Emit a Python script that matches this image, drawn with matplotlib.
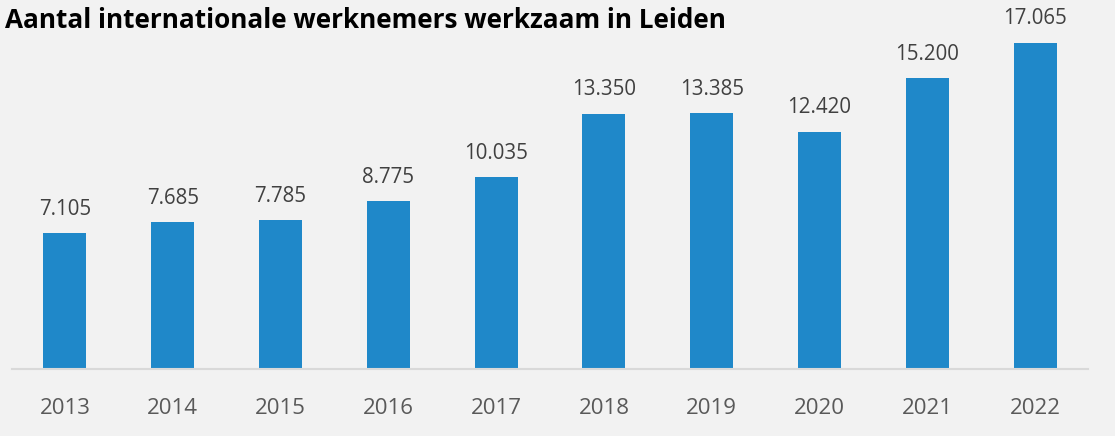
import matplotlib
matplotlib.use("Agg")
import matplotlib.pyplot as plt

years = ["2013", "2014", "2015", "2016", "2017", "2018", "2019", "2020", "2021", "2022"]
values = [7105, 7685, 7785, 8775, 10035, 13350, 13385, 12420, 15200, 17065]
labels = ["7.105", "7.685", "7.785", "8.775", "10.035", "13.350", "13.385", "12.420", "15.200", "17.065"]

W, H = 1115, 436
fig = plt.figure(figsize=(W / 100, H / 100), dpi=100)
fig.patch.set_facecolor("#F2F2F2")

left_px, right_px = 12, 1088
base_px = 369
ax = fig.add_axes([left_px / W, 1 - base_px / H, (right_px - left_px) / W, base_px / H])
ax.set_facecolor("#F2F2F2")

x = list(range(len(years)))
ax.bar(x, values, width=0.40, color="#1F88C9", zorder=2)
for xi, v, lab in zip(x, values, labels):
    ax.text(xi, v + 700, lab, ha="center", va="bottom", fontsize=14.8,
            family="Open Sans", color="#404040")

ax.set_xlim(-0.49, 9.49)
ax.set_ylim(0, 19300)
for s in ["top", "right", "left"]:
    ax.spines[s].set_visible(False)
ax.spines["bottom"].set_color("#D9D9D9")
ax.spines["bottom"].set_linewidth(1.5)
ax.set_yticks([])
ax.set_xticks(x)
ax.set_xticklabels(years, family="Open Sans", fontsize=16, color="#595959")
ax.tick_params(axis="x", length=0, pad=21)

fig.text(5 / W, 1 - 20 / H, "Aantal internationale werknemers werkzaam in Leiden",
         ha="left", va="center", fontsize=18.8, fontweight="bold",
         family="Open Sans", color="#000000")

fig.savefig("out.png", dpi=100, facecolor=fig.get_facecolor())
